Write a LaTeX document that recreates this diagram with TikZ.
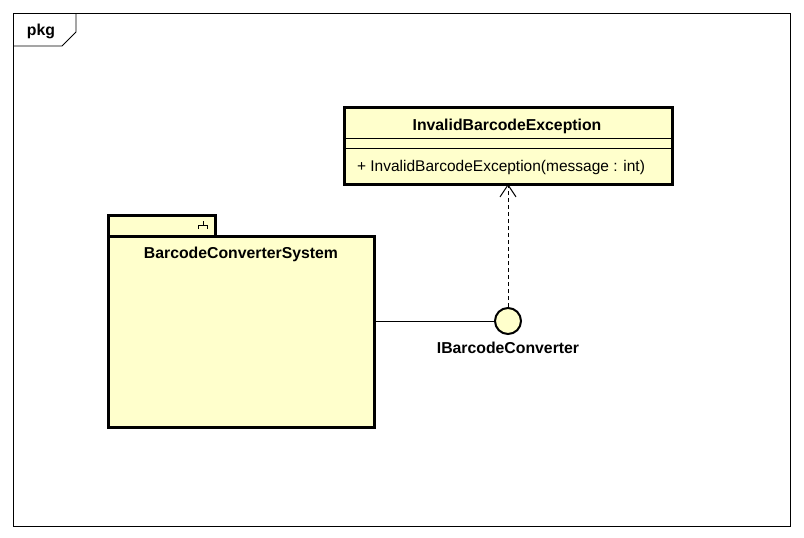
\documentclass[tikz,border=0pt]{standalone}
\usepackage{fontspec}
\setmainfont{Liberation Sans}
\usetikzlibrary{arrows.meta}
\definecolor{umlfill}{RGB}{255,255,204}
\tikzset{
  thinln/.style={draw=black,line width=0.9pt},
  thickln/.style={draw=black,line width=3pt},
  boldtxt/.style={font=\fontsize{15.8}{17}\selectfont\bfseries,inner sep=0pt},
  regtxt/.style={font=\fontsize{15.5}{17}\selectfont,inner sep=0pt},
}
\begin{document}
\begin{tikzpicture}[x=1pt,y=-1pt]
\useasboundingbox (0,0) rectangle (804,538);
% frame
\draw[thinln] (13,13) rectangle (790,526);
\draw[thinln] (13,46) -- (62,46) -- (76,32) -- (76,13);
\node[boldtxt,anchor=center] (pkglbl) at (41,31) {pkg};
% class box
\filldraw[fill=umlfill,thickln] (344,107) rectangle (672,184);
\coordinate (clsbot) at (508,184);
\draw[thinln] (344,138) -- (672,138);
\draw[thinln] (344,148) -- (672,148);
\node[boldtxt] (clsname) at (507,126) {InvalidBarcodeException};
\node[regtxt] (clsop) at (501,167) {+ InvalidBarcodeException(message : int)};
% package
\filldraw[fill=umlfill,thickln] (108,215) rectangle (215,236);
\filldraw[fill=umlfill,thickln] (108,236) rectangle (374,427);
\draw[line width=0.9pt] (203,221) -- (203,225.5) (198.5,229) -- (198.5,225.5) -- (207.5,225.5) -- (207.5,229);
\node[boldtxt] (pkgname) at (241,254) {BarcodeConverterSystem};
\coordinate (pkgright) at (374,321);
% interface
\node[circle,fill=umlfill,draw=black,line width=2pt,minimum size=26pt,inner sep=0pt] (iface) at (508,321) {};
\node[boldtxt] (ifacelbl) at (508,348) {IBarcodeConverter};
\draw[line width=1pt] (pkgright) -- (iface.west);
\draw[line width=1pt,dash pattern=on 4pt off 3pt,-{Straight Barb[length=12pt,width=16pt,line width=1pt]}] (iface.north) -- (clsbot);
\end{tikzpicture}
\end{document}
